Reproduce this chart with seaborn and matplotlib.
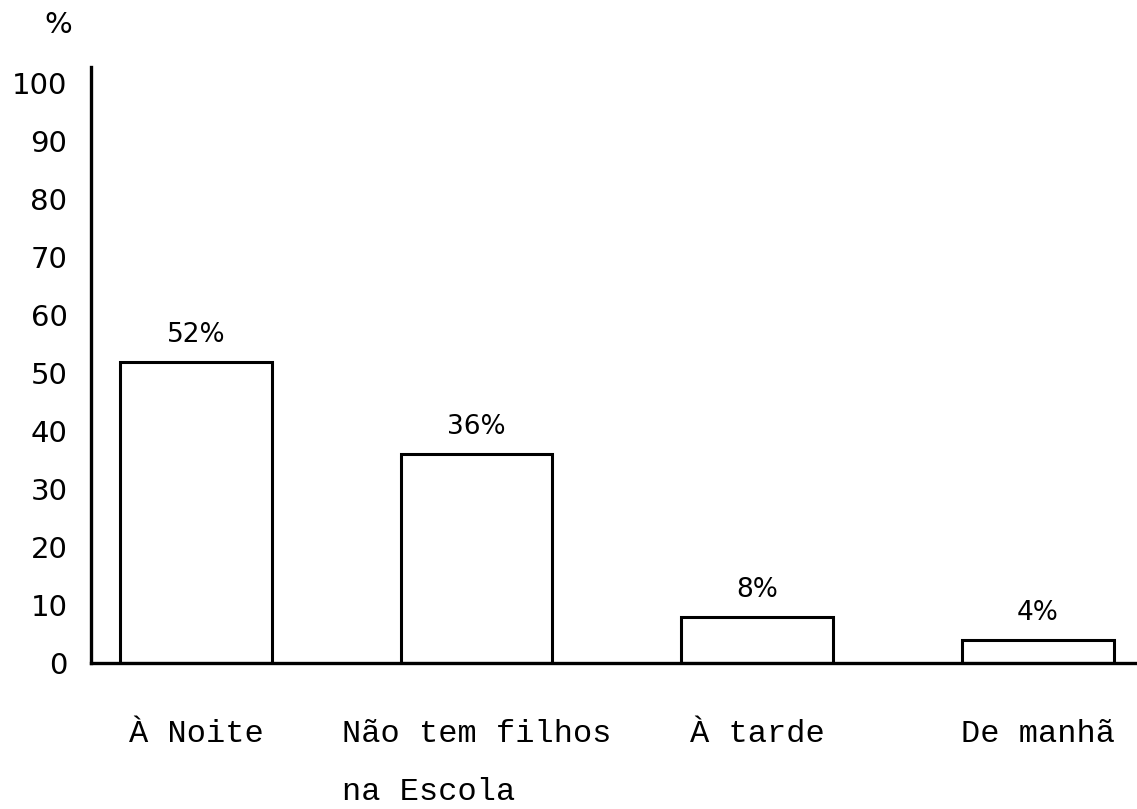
import matplotlib
matplotlib.use("Agg")
import matplotlib.pyplot as plt
import pandas as pd
import seaborn as sns

# dados
categorias = ["À Noite", "Não tem filhos\nna Escola", "À tarde", "De manhã"]
percentagens = [52, 36, 8, 4]
rotulos = ["52%", "36%", "8%", "4%"]
marcas_y = [0, 10, 20, 30, 40, 50, 60, 70, 80, 90, 100]

df = pd.DataFrame({"categoria": categorias, "pct": percentagens})

sns.set_style("white")
plt.rcParams["font.family"] = ["DejaVu Sans"]
plt.rcParams["text.color"] = "black"
plt.rcParams["xtick.color"] = "black"
plt.rcParams["ytick.color"] = "black"

fig = plt.figure(figsize=(11.37, 8.09), dpi=100)
ax = fig.add_axes([91 / 1137, 1 - 663 / 809, 1 - 91 / 1137, (663 - 67) / 809])

sns.barplot(data=df, x="categoria", y="pct", color="white", saturation=1,
            edgecolor="black", linewidth=2.2, width=0.54, ax=ax)

ax.bar_label(ax.containers[0], labels=rotulos, padding=10, fontsize=19,
             color="black")

ax.set_xlim(-0.374, 3.353)
ax.set_ylim(0, 102.8)
ax.set_yticks(marcas_y)
ax.set_xlabel("")
ax.set_ylabel("")

sns.despine(ax=ax)
for lado in ["left", "bottom"]:
    ax.spines[lado].set_linewidth(2.4)
    ax.spines[lado].set_color("black")

ax.tick_params(axis="y", length=0, pad=17, labelsize=21, labelcolor="black")
ax.tick_params(axis="x", length=0, pad=40, labelsize=23, labelcolor="black")
for lbl in ax.get_xticklabels():
    lbl.set_fontfamily("Liberation Mono")
    lbl.set_linespacing(2.25)
    lbl.set_multialignment("left")

fig.text(58 / 1137, 1 - 25 / 809, "%", ha="center", va="center", fontsize=21,
         color="black")

fig.savefig("out.png", dpi=100)
